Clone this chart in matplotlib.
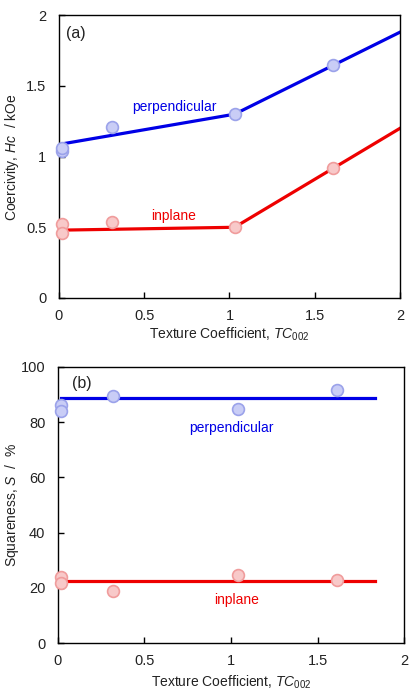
import matplotlib
matplotlib.use("Agg")
import matplotlib.pyplot as plt

plt.rcParams['font.family'] = ['Liberation Sans', 'DejaVu Sans']
plt.rcParams['mathtext.fontset'] = 'custom'
plt.rcParams['mathtext.rm'] = 'Liberation Sans'
plt.rcParams['mathtext.it'] = 'Liberation Sans:italic'
plt.rcParams['text.color'] = '#222222'
plt.rcParams['axes.labelcolor'] = '#222222'
plt.rcParams['xtick.labelcolor'] = '#222222'
plt.rcParams['ytick.labelcolor'] = '#222222'

# (a) Coercivity
hc_perp_x = [0.02, 0.02, 0.31, 1.03, 1.61]
hc_perp_y = [1.04, 1.06, 1.21, 1.30, 1.65]
hc_in_x = [0.02, 0.02, 0.31, 1.03, 1.61]
hc_in_y = [0.52, 0.46, 0.54, 0.50, 0.92]
hc_perp_line_x = [0.02, 1.03, 2.0]
hc_perp_line_y = [1.09, 1.30, 1.88]
hc_in_line_x = [0.02, 1.03, 2.0]
hc_in_line_y = [0.48, 0.50, 1.20]

# (b) Squareness
sq_perp_x = [0.02, 0.02, 0.32, 1.04, 1.61]
sq_perp_y = [86.2, 83.9, 89.3, 84.7, 91.5]
sq_in_x = [0.02, 0.02, 0.32, 1.04, 1.61]
sq_in_y = [24.0, 21.9, 18.7, 24.5, 23.0]
sq_perp_line_x = [0.02, 1.83]
sq_perp_line_y = [88.9, 88.9]
sq_in_line_x = [0.02, 1.83]
sq_in_line_y = [22.3, 22.3]

blue = '#0000e6'
red = '#ee0000'
bfill, bedge = '#c9cdf6', '#9ba2ea'
rfill, redge = '#f8c9c9', '#f09c9c'

fig = plt.figure(figsize=(4.09, 6.88), dpi=100)
ax1 = fig.add_axes([0.144, 0.5669, 0.834, 0.411])
ax2 = fig.add_axes([0.1418, 0.0654, 0.846, 0.4013])

def style(ax):
    ax.tick_params(axis='x', direction='in', length=4, width=1, labelsize=10.5, pad=8)
    ax.tick_params(axis='y', direction='in', length=4, width=1, labelsize=10.5, pad=9)
    for s in ax.spines.values():
        s.set_linewidth(1.0)
        s.set_color('black')

ms = 8.5
ax1.plot(hc_perp_line_x, hc_perp_line_y, color=blue, lw=2.3, zorder=2)
ax1.plot(hc_in_line_x, hc_in_line_y, color=red, lw=2.3, zorder=2)
ax1.plot(hc_perp_x, hc_perp_y, 'o', ms=ms, mfc=bfill, mec=bedge, mew=1.2, zorder=3, clip_on=False)
ax1.plot(hc_in_x, hc_in_y, 'o', ms=ms, mfc=rfill, mec=redge, mew=1.2, zorder=3, clip_on=False)
ax1.set_xlim(0, 2)
ax1.set_ylim(0, 2)
ax1.set_xticks([0, 0.5, 1, 1.5, 2])
ax1.set_xticklabels(['0', '0.5', '1', '1.5', '2'])
ax1.set_yticks([0, 0.5, 1, 1.5, 2])
ax1.set_yticklabels(['0', '0.5', '1', '1.5', '2'])
ax1.set_xlabel(r'Texture Coefficient, $\mathit{TC}_{\mathrm{002}}$', fontsize=10, labelpad=2)
ax1.set_ylabel(r'Coercivity, $\mathit{Hc}$  / kOe', fontsize=10)
ax1.yaxis.set_label_coords(-0.111, 0.5)
ax1.text(0.1, 1.87, '(a)', fontsize=11.5, ha='center', va='center')
ax1.text(0.68, 1.35, 'perpendicular', color=blue, fontsize=10, ha='center', va='center')
ax1.text(0.675, 0.58, 'inplane', color=red, fontsize=10, ha='center', va='center')
style(ax1)

ax2.plot(sq_perp_line_x, sq_perp_line_y, color=blue, lw=2.3, zorder=2)
ax2.plot(sq_in_line_x, sq_in_line_y, color=red, lw=2.3, zorder=2)
ax2.plot(sq_perp_x, sq_perp_y, 'o', ms=ms, mfc=bfill, mec=bedge, mew=1.2, zorder=3, clip_on=False)
ax2.plot(sq_in_x, sq_in_y, 'o', ms=ms, mfc=rfill, mec=redge, mew=1.2, zorder=3, clip_on=False)
ax2.set_xlim(0, 2)
ax2.set_ylim(0, 100)
ax2.set_xticks([0, 0.5, 1, 1.5, 2])
ax2.set_xticklabels(['0', '0.5', '1', '1.5', '2'])
ax2.set_yticks([0, 20, 40, 60, 80, 100])
ax2.set_xlabel(r'Texture Coefficient, $\mathit{TC}_{\mathrm{002}}$', fontsize=10, labelpad=4)
ax2.set_ylabel(r'Squareness, $\mathit{S}$  /  %', fontsize=10)
ax2.yaxis.set_label_coords(-0.107, 0.5)
ax2.text(0.14, 94, '(b)', fontsize=11.5, ha='center', va='center')
ax2.text(1.0, 78, 'perpendicular', color=blue, fontsize=10, ha='center', va='center')
ax2.text(1.03, 15.5, 'inplane', color=red, fontsize=10, ha='center', va='center')
style(ax2)

fig.savefig('out.png', dpi=100)
